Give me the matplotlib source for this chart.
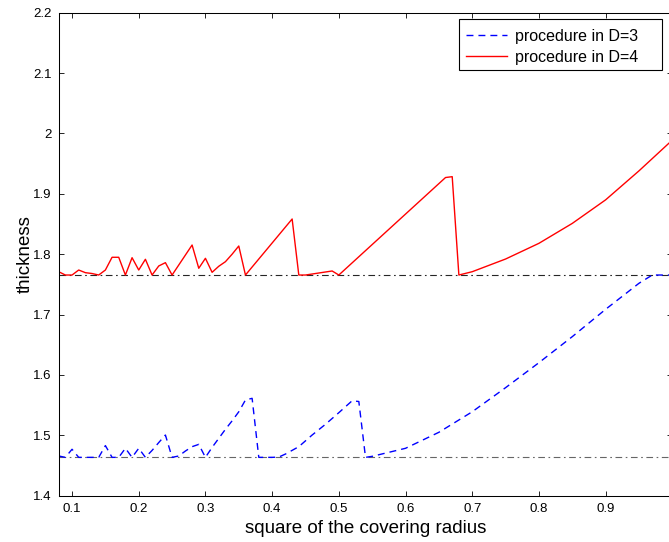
import matplotlib
matplotlib.use('Agg')
from matplotlib import pyplot as plt
from matplotlib.patches import Rectangle

plt.rcParams['font.family'] = ['Liberation Sans', 'DejaVu Sans']

# square of the covering radius vs thickness
x3 = [0.08, 0.09, 0.10, 0.11, 0.12, 0.13, 0.14, 0.15, 0.16, 0.17, 0.18, 0.19,
      0.20, 0.21, 0.22, 0.23, 0.24, 0.25, 0.26, 0.27, 0.28, 0.29, 0.30, 0.31,
      0.32, 0.33, 0.34, 0.35, 0.36, 0.37, 0.38, 0.39, 0.40, 0.41, 0.42, 0.44,
      0.46, 0.48, 0.50, 0.52, 0.53, 0.54, 0.55, 0.60, 0.65, 0.70, 0.75, 0.80,
      0.85, 0.90, 0.95, 0.97, 1.00]
y3 = [1.4658, 1.4635, 1.4769, 1.4635, 1.4635, 1.4635, 1.4635, 1.4830, 1.4635,
      1.4635, 1.4785, 1.4635, 1.4785, 1.4635, 1.4750, 1.4880, 1.5005, 1.4635,
      1.4658, 1.4740, 1.4812, 1.4850, 1.4635, 1.4800, 1.4950, 1.5100, 1.5240,
      1.5390, 1.5585, 1.5613, 1.4635, 1.4635, 1.4635, 1.4640, 1.4690, 1.4812,
      1.5005, 1.5183, 1.5375, 1.5573, 1.5560, 1.4635, 1.4652, 1.4785, 1.5050,
      1.5390, 1.5789, 1.6203, 1.6634, 1.7087, 1.7518, 1.7655, 1.7655]

x4 = [0.08, 0.09, 0.10, 0.11, 0.12, 0.13, 0.14, 0.15, 0.16, 0.17, 0.18, 0.19,
      0.20, 0.21, 0.22, 0.23, 0.24, 0.25, 0.28, 0.29, 0.30, 0.31, 0.32, 0.33,
      0.34, 0.35, 0.36, 0.43, 0.44, 0.45, 0.49, 0.50, 0.66, 0.67, 0.68, 0.70,
      0.75, 0.80, 0.85, 0.90, 0.95, 1.00]
y4 = [1.7710, 1.7655, 1.7655, 1.7738, 1.7694, 1.7680, 1.7655, 1.7738, 1.7949,
      1.7949, 1.7655, 1.7942, 1.7738, 1.7916, 1.7655, 1.7805, 1.7860, 1.7655,
      1.8152, 1.7767, 1.7932, 1.7700, 1.7800, 1.7876, 1.8000, 1.8136, 1.7655,
      1.8583, 1.7655, 1.7655, 1.7722, 1.7655, 1.9270, 1.9284, 1.7655, 1.7710,
      1.7920, 1.8180, 1.8510, 1.8900, 1.9380, 1.9890]

# optimal lattice thickness (A3*, A4*)
opt3 = 1.4635
opt4 = 1.7655

xticks = [0.1, 0.2, 0.3, 0.4, 0.5, 0.6, 0.7, 0.8, 0.9]
xticklabels = ['0.1', '0.2', '0.3', '0.4', '0.5', '0.6', '0.7', '0.8', '0.9']
yticks = [1.4, 1.5, 1.6, 1.7, 1.8, 1.9, 2.0, 2.1, 2.2]
yticklabels = ['1.4', '1.5', '1.6', '1.7', '1.8', '1.9', '2', '2.1', '2.2']

W, H = 669, 542
fig = plt.figure(figsize=(W / 100, H / 100), dpi=100)
ax = fig.add_axes([58.7 / W, 46.3 / H, 613.6 / W, 483 / H])

dashdot = (6, 3.2, 1.5, 3.2)
ax.plot([0.08, 1.0], [opt4, opt4], color='0.15', lw=0.8, dashes=dashdot)
ax.plot([0.08, 1.0], [opt3, opt3], color='0.4', lw=0.8, dashes=dashdot)

l3, = ax.plot(x3, y3, color='blue', lw=1.0, dashes=(5, 3.6), label='procedure in D=3')
l4, = ax.plot(x4, y4, color='red', lw=1.0, label='procedure in D=4')

ax.set_xlim(0.08, 1.0)
ax.set_ylim(1.4, 2.2)
ax.set_xticks(xticks)
ax.set_xticklabels(xticklabels)
ax.set_yticks(yticks)
ax.set_yticklabels(yticklabels)
ax.tick_params(direction='in', top=True, right=True, length=3.6, width=0.6,
               labelsize=9.5, pad=5)
for s in ax.spines.values():
    s.set_linewidth(0.75)

ax.set_xlabel('square of the covering radius', fontsize=13.5, labelpad=4)
ax.set_ylabel('thickness', fontsize=13.5, labelpad=-0.5)

# matlab style legend box: wider on the right than the entries need
box = Rectangle((459 / W, 1 - 70 / H), 203 / W, 50.7 / H,
                transform=fig.transFigure, facecolor='white',
                edgecolor='black', lw=0.8, zorder=4, clip_on=False)
ax.add_patch(box)
leg = ax.legend(handles=[l3, l4], loc='upper left',
                bbox_to_anchor=(466 / W, 1 - 29 / H),
                bbox_transform=fig.transFigure, borderaxespad=0,
                fontsize=11.5, frameon=False, borderpad=0,
                handlelength=2.55, handletextpad=0.5, labelspacing=0.35)
leg.set_zorder(5)

fig.savefig('out.png', dpi=100)
